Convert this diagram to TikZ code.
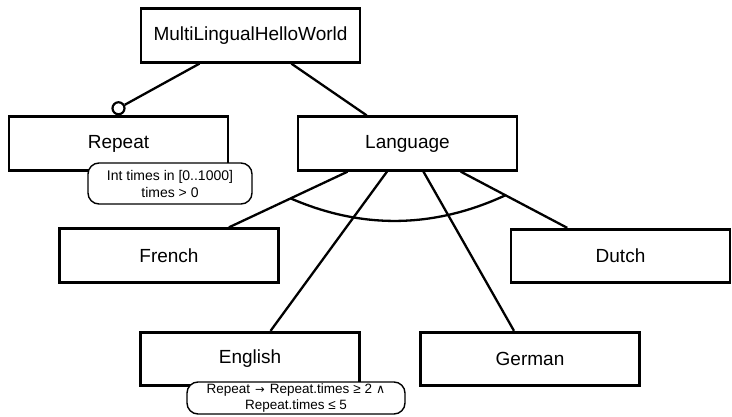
\documentclass[tikz,border=0pt]{standalone}
\usepackage{fontspec}
\setmainfont{Liberation Sans}
\newfontfamily\symfont{DejaVu Sans}
\usetikzlibrary{calc}
\begin{document}
\begin{tikzpicture}[x=1pt,y=-1pt,
  feature/.style={draw, line width=2.8pt, fill=white, minimum width=219pt,
    minimum height=53.5pt, inner sep=0pt, font=\fontsize{19}{22}\selectfont},
  link/.style={line width=2.3pt},
  optmark/.style={circle, draw, line width=2.2pt, fill=white, minimum size=12pt, inner sep=0pt},
  constraint/.style={draw, line width=1.4pt, fill=white, rounded corners=11pt,
    align=center, inner sep=0pt, font=\fontsize{14}{17}\selectfont}]
\useasboundingbox (0,0) rectangle (732,416);

% features
\node[feature] (root)    at (250.5,35.5) {MultiLingualHelloWorld};
\node[feature] (repeat)  at (118.5,143.5) {Repeat};
\node[feature] (lang)    at (407.5,143.5) {Language};
\node[feature] (french)  at (169,255.5) {French};
\node[feature] (dutch)   at (620.5,256) {Dutch};
\node[feature] (english) at (250,359) {English};
\node[feature] (german)  at (530,359) {German};

% optional marker on Repeat
\node[optmark, anchor=south] (opt) at (repeat.north) {};

% decomposition links
\draw[link] (root) -- (opt);
\draw[link] (root) -- (lang);
\draw[link] (lang) -- (french);
\draw[link] (lang) -- (dutch);
\draw[link] (lang) -- (english);
\draw[link] (lang) -- (german);

% group arc across the Language children (quadratic curve through q)
\coordinate (arcL) at ($(lang)!0.49!(french)$);
\coordinate (arcR) at ($(lang)!0.46!(dutch)$);
\coordinate (q) at (398,245);
\draw[link] (arcL) .. controls ($(arcL)!2/3!(q)$) and ($(arcR)!2/3!(q)$) .. (arcR);

% attribute and constraint notes
\node[constraint, minimum width=164pt, minimum height=41pt] (repNote) at (170,183.5)
  {Int times in [0..1000]\\times > 0};
\node[constraint, minimum width=218pt, minimum height=32pt,
  font=\fontsize{13.5}{15.5}\selectfont] (engNote) at (296,398)
  {Repeat\hspace{5pt}{\symfont\fontsize{11.5}{12}\selectfont →}\hspace{5pt}Repeat.times\hspace{4pt}≥\hspace{4pt}2\hspace{4pt}{\symfont\fontsize{12.5}{12}\selectfont ∧}\\Repeat.times ≤ 5\hspace{14pt}};
\end{tikzpicture}
\end{document}
